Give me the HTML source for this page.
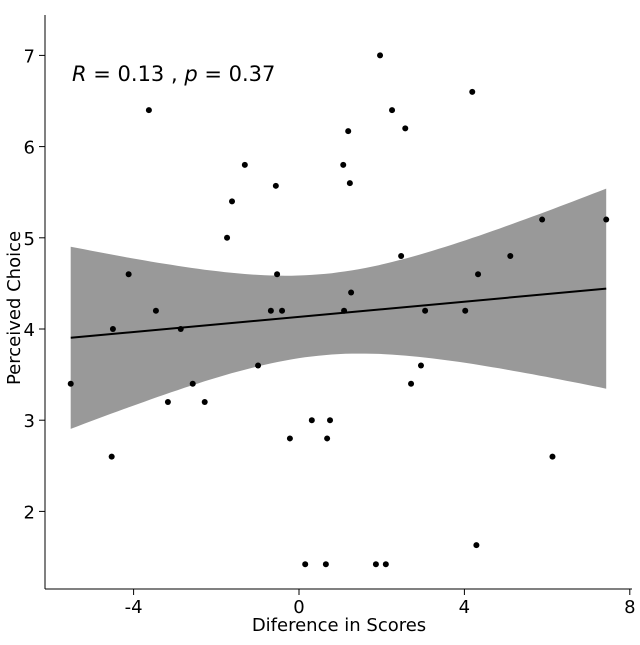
<!DOCTYPE html>
<html><head><meta charset="utf-8"><style>
html,body{margin:0;padding:0;background:#fff;}
svg text{font-family:"DejaVu Sans","Liberation Sans",sans-serif;fill:#000;}
</style></head><body>
<svg id="chart" width="640" height="640" viewBox="0 0 640 640" xmlns="http://www.w3.org/2000/svg"></svg>
<script>
const xValues=[-5.52,-3.63,-4.5,-4.53,-4.12,-3.46,-3.17,-2.86,-2.57,-2.28,-1.74,-1.62,-1.31,-0.99,-0.68,-0.56,-0.53,-0.41,-0.22,0.15,0.31,0.65,0.68,0.75,1.07,1.09,1.19,1.23,1.26,1.86,1.96,2.1,2.25,2.47,2.57,2.71,2.95,3.05,4.02,4.19,4.29,4.33,5.11,5.88,6.13,7.43];
const yValues=[3.4,6.4,4.0,2.6,4.6,4.2,3.2,4.0,3.4,3.2,5.0,5.4,5.8,3.6,4.2,5.57,4.6,4.2,2.8,1.42,3.0,1.42,2.8,3.0,5.8,4.2,6.17,5.6,4.4,1.42,7.0,1.42,6.4,4.8,6.2,3.4,3.6,4.2,4.2,6.6,1.63,4.6,4.8,5.2,2.6,5.2];
const xTicks=[-4,0,4,8];
const yTicks=[2,3,4,5,6,7];
const xTickLabels=["-4","0","4","8"];
const yTickLabels=["2","3","4","5","6","7"];
const NS="http://www.w3.org/2000/svg";
const svg=document.getElementById('chart');
function X(v){return 299+v*41.35;}
function Y(v){return 329-(v-4)*91.2;}
function mk(t,a,p){const e=document.createElementNS(NS,t);for(const k in a)e.setAttribute(k,a[k]);(p||svg).appendChild(e);return e;}
const n=xValues.length;
const mx=xValues.reduce((a,b)=>a+b)/n, my=yValues.reduce((a,b)=>a+b)/n;
let sxx=0,sxy=0;for(let i=0;i<n;i++){sxx+=(xValues[i]-mx)**2;sxy+=(xValues[i]-mx)*(yValues[i]-my);}
const slope=sxy/sxx, icpt=my-slope*mx;
let sse=0;for(let i=0;i<n;i++){sse+=(yValues[i]-icpt-slope*xValues[i])**2;}
const s=Math.sqrt(sse/(n-2)), tq=2.015;
const xmin=Math.min(...xValues), xmax=Math.max(...xValues);
let up=[],lo=[];
for(let k=0;k<=80;k++){const x=xmin+(xmax-xmin)*k/80;const f=icpt+slope*x;const h=tq*s*Math.sqrt(1/n+(x-mx)**2/sxx);up.push(X(x).toFixed(1)+','+Y(f+h).toFixed(1));lo.unshift(X(x).toFixed(1)+','+Y(f-h).toFixed(1));}
const band=mk('polygon',{points:up.concat(lo).join(' '),fill:'#999999'});


const line=mk('line',{x1:X(xmin),y1:Y(icpt+slope*xmin),x2:X(xmax),y2:Y(icpt+slope*xmax),stroke:'#000','stroke-width':2});


for(let i=0;i<n;i++){const c=mk('circle',{cx:X(xValues[i]),cy:Y(yValues[i]),r:3,fill:'#000'});

}
const xa=mk('line',{x1:45,y1:589,x2:632,y2:589,stroke:'#000','stroke-width':1});


const ya=mk('line',{x1:45,y1:15,x2:45,y2:589,stroke:'#000','stroke-width':1});


xTicks.forEach((v,i)=>{mk('line',{x1:X(v),y1:589,x2:X(v),y2:595,stroke:'#000'});
const t=mk('text',{x:X(v),y:613,'text-anchor':'middle','font-size':18});t.textContent=xTickLabels[i];

});
yTicks.forEach((v,i)=>{mk('line',{x1:39,y1:Y(v),x2:45,y2:Y(v),stroke:'#000'});
const t=mk('text',{x:35,y:Y(v)+7,'text-anchor':'end','font-size':18});t.textContent=yTickLabels[i];

});
</script>
<svg style="position:absolute;left:0;top:0" width="640" height="640">
<text x="339" y="631" text-anchor="middle" font-size="18">Diference in Scores</text>
<text transform="translate(20,308) rotate(-90)" text-anchor="middle" font-size="18">Perceived Choice</text>
<text x="72" y="81" font-size="21"><tspan font-style="italic">R</tspan> = 0.13 , <tspan font-style="italic">p</tspan> = 0.37</text>
</svg>
</body></html>
